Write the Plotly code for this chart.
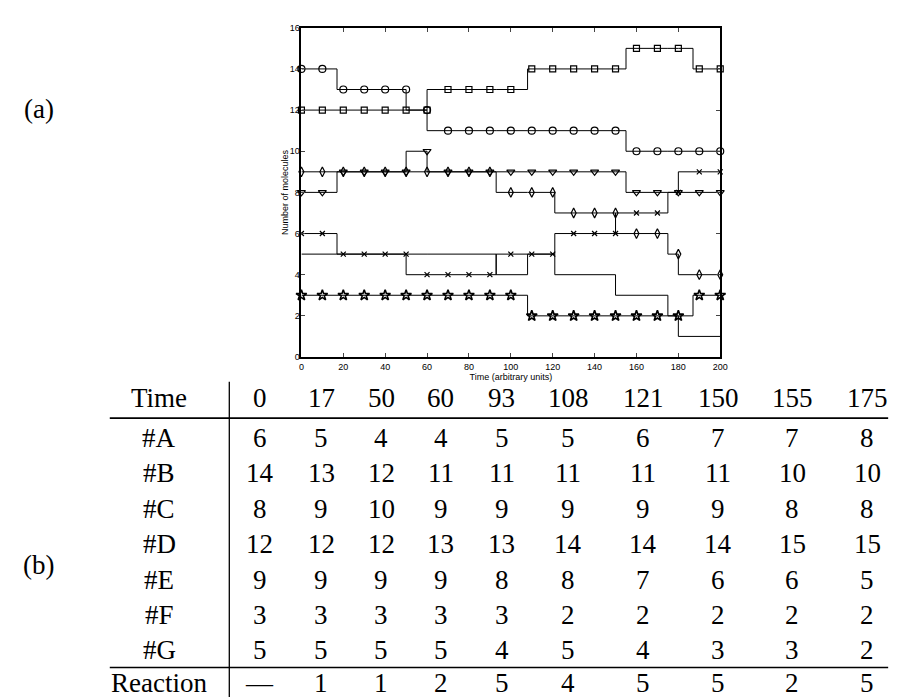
import plotly.graph_objects as go

# ---------------- data ----------------
event_times = [0, 17, 50, 60, 93, 108, 121, 150, 155, 175, 180, 187]
t_end = 200
A = [6, 5, 4, 4, 5, 5, 6, 7, 7, 8, 9, 9]
B = [14, 13, 12, 11, 11, 11, 11, 11, 10, 10, 10, 10]
C = [8, 9, 10, 9, 9, 9, 9, 9, 8, 8, 8, 8]
D = [12, 12, 12, 13, 13, 14, 14, 14, 15, 15, 15, 14]
E = [9, 9, 9, 9, 8, 8, 7, 6, 6, 5, 4, 4]
F = [3, 3, 3, 3, 3, 2, 2, 2, 2, 2, 2, 3]
G = [5, 5, 5, 5, 4, 5, 4, 3, 3, 2, 1, 1]

sample_times = [0, 10, 20, 30, 40, 50, 60, 70, 80, 90, 100, 110, 120, 130, 140, 150, 160, 170, 180, 190, 200]
A_marks = [6, 6, 5, 5, 5, 5, 4, 4, 4, 4, 5, 5, 5, 6, 6, 6, 7, 7, 8, 9, 9]
B_marks = [14, 14, 13, 13, 13, 13, 12, 11, 11, 11, 11, 11, 11, 11, 11, 11, 10, 10, 10, 10, 10]
C_marks = [8, 8, 9, 9, 9, 9, 10, 9, 9, 9, 9, 9, 9, 9, 9, 9, 8, 8, 8, 8, 8]
D_marks = [12, 12, 12, 12, 12, 12, 12, 13, 13, 13, 13, 14, 14, 14, 14, 14, 15, 15, 15, 14, 14]
E_marks = [9, 9, 9, 9, 9, 9, 9, 9, 9, 9, 8, 8, 8, 7, 7, 7, 6, 6, 5, 4, 4]
F_marks = [3, 3, 3, 3, 3, 3, 3, 3, 3, 3, 3, 2, 2, 2, 2, 2, 2, 2, 2, 3, 3]

x_ticks = [0, 20, 40, 60, 80, 100, 120, 140, 160, 180, 200]
y_ticks = [0, 2, 4, 6, 8, 10, 12, 14, 16]

table_header = "Time"
table_times = [0, 17, 50, 60, 93, 108, 121, 150, 155, 175]
table_rows = ["#A", "#B", "#C", "#D", "#E", "#F", "#G"]
table_values = [A[:10], B[:10], C[:10], D[:10], E[:10], F[:10], G[:10]]
reaction_label = "Reaction"
reactions = ["—", 1, 1, 2, 5, 4, 5, 5, 2, 5]

# ---------------- layout helpers ----------------
W, H = 901, 697
def px(x):
    return x / W
def py(y):
    return 1 - y / H

fig = go.Figure()

series = [
    ("A", A, A_marks, "x-thin-open", 5),
    ("B", B, B_marks, "circle-open", 7),
    ("C", C, C_marks, "triangle-down-open", 7),
    ("D", D, D_marks, "square-open", 6),
    ("E", E, E_marks, "diamond-tall-open", 7),
    ("F", F, F_marks, "star-open", 8),
    ("G", G, None, None, 0),
]
for name, vals, marks, sym, size in series:
    fig.add_trace(go.Scatter(
        x=event_times + [t_end], y=vals + [vals[-1]],
        mode="lines", line=dict(color="black", width=1, shape="hv"),
        showlegend=False, hoverinfo="skip", cliponaxis=False))
    if marks is not None:
        fig.add_trace(go.Scatter(
            x=sample_times, y=marks, mode="markers",
            marker=dict(symbol=sym, size=size, color="black",
                        line=dict(color="black", width=1.2 if sym != "star-open" else 1.6)),
            showlegend=False, cliponaxis=False))

axis_font = dict(family="Liberation Sans, Arial", size=9, color="black")
fig.update_xaxes(range=[0, 200], tickvals=x_ticks, ticks="inside", ticklen=4,
                 showline=True, linecolor="black", linewidth=1.5, mirror="ticks",
                 showgrid=False, zeroline=False, tickfont=axis_font,
                 title=dict(text="Time (arbitrary units)", font=axis_font, standoff=0),
                 domain=[px(294), px(718)])
fig.update_yaxes(range=[0, 16], tickvals=y_ticks, ticks="inside", ticklen=4,
                 showline=True, linecolor="black", linewidth=1.5, mirror="ticks",
                 showgrid=False, zeroline=False, tickfont=axis_font,
                 ticklabelstandoff=-2,
                 title=dict(text="Number of molecules", font=axis_font, standoff=0),
                 domain=[py(349), py(15)])

# ---------------- table ----------------
col_x = [252, 314, 375, 435, 497, 564, 640, 716, 791, 867]
label_x = 150
header_y = 391
row_y = [431, 467, 503, 539, 575, 611, 646]
tfont = dict(family="Liberation Serif, Times New Roman, serif", size=27, color="black")

ann = []
def txt(x, y, s, anchor="middle"):
    ann.append(dict(x=px(x), y=py(y), xref="paper", yref="paper", text=str(s),
                    showarrow=False, font=tfont, xanchor="center", yanchor=anchor))

txt(label_x, header_y, table_header)
for cx, t in zip(col_x, table_times):
    txt(cx, header_y, t)
for ry, lab, vals in zip(row_y, table_rows, table_values):
    txt(label_x, ry, lab)
    for cx, v in zip(col_x, vals):
        txt(cx, ry, v)
# last row sits on the bottom edge
txt(label_x, 697, reaction_label, anchor="bottom")
for cx, r in zip(col_x, reactions):
    txt(cx, 697, r, anchor="bottom")

# panel labels
txt(28, 97, "(a)")
txt(28, 560, "(b)")

shapes = [
    dict(type="line", xref="paper", yref="paper", x0=px(221), x1=px(221), y0=py(374), y1=py(697),
         line=dict(color="black", width=1.3)),
    dict(type="line", xref="paper", yref="paper", x0=px(100), x1=px(888), y0=py(411), y1=py(411),
         line=dict(color="black", width=1.6)),
    dict(type="line", xref="paper", yref="paper", x0=px(100), x1=px(888), y0=py(664), y1=py(664),
         line=dict(color="black", width=1.6)),
]

fig.update_layout(width=W, height=H, margin=dict(l=0, r=0, t=0, b=0),
                  paper_bgcolor="white", plot_bgcolor="white",
                  annotations=ann, shapes=shapes, showlegend=False)

fig.write_html("out.html")
